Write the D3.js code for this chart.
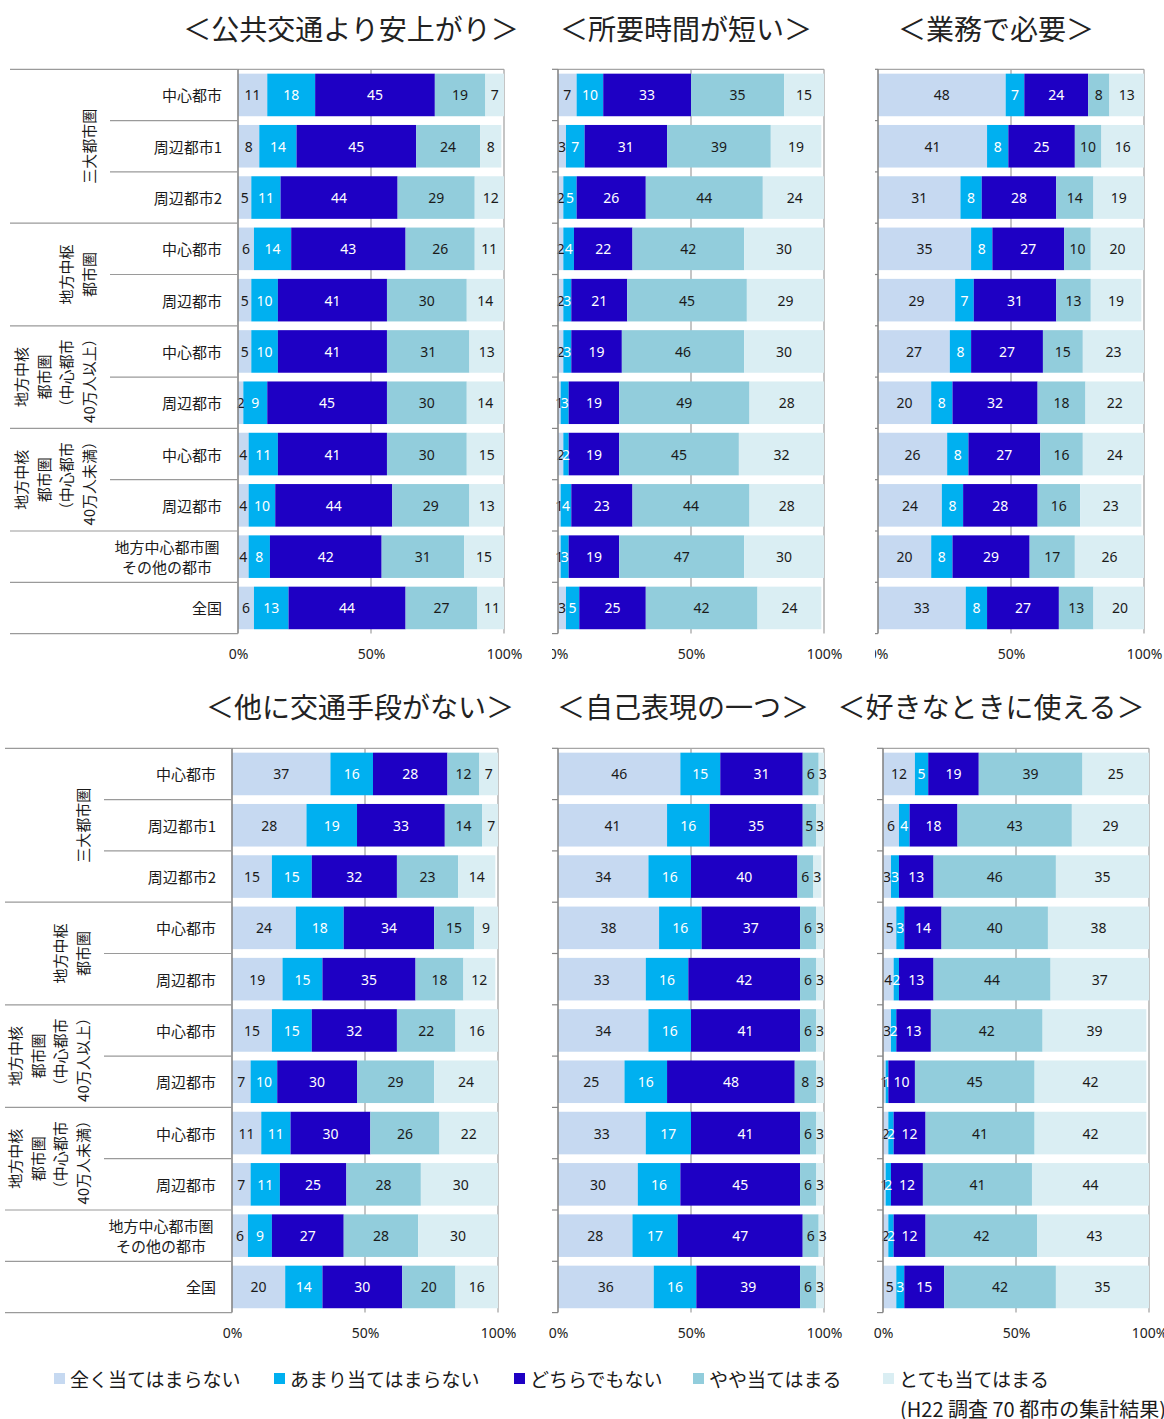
<!DOCTYPE html>
<html>
<head>
<meta charset="utf-8">
<script src="https://cdn.jsdelivr.net/npm/d3@7"></script>
<style>
  body { margin: 0; background: #fff; }
  svg { display: block; }
</style>
</head>
<body>
<svg id="chart" width="1164" height="1419"></svg>
<script>
// ---- data ----
const categories = ["中心都市", "周辺都市1", "周辺都市2", "中心都市", "周辺都市", "中心都市", "周辺都市",
  "中心都市", "周辺都市", "地方中心都市圏\nその他の都市", "全国"];
const categoryGroups = [
  { from: 0, to: 2, lines: ["三大都市圏"] },
  { from: 3, to: 4, lines: ["地方中枢", "都市圏"] },
  { from: 5, to: 6, lines: ["地方中核", "都市圏", "（中心都市", "40万人以上）"] },
  { from: 7, to: 8, lines: ["地方中核", "都市圏", "（中心都市", "40万人未満）"] }
];
const seriesNames = ["全く当てはまらない", "あまり当てはまらない", "どちらでもない", "やや当てはまる", "とても当てはまる"];
const tickValues = [0, 50, 100];
const tickLabels = ["0%", "50%", "100%"];
const panelTitles = ["＜公共交通より安上がり＞", "＜所要時間が短い＞", "＜業務で必要＞",
  "＜他に交通手段がない＞", "＜自己表現の一つ＞", "＜好きなときに使える＞"];
const sourceNote = "(H22 調査 70 都市の集計結果)";

// percentages per row, in series order
const cheaperThanTransit = [
  [11, 18, 45, 19, 7], [8, 14, 45, 24, 8], [5, 11, 44, 29, 12], [6, 14, 43, 26, 11], [5, 10, 41, 30, 14],
  [5, 10, 41, 31, 13], [2, 9, 45, 30, 14], [4, 11, 41, 30, 15], [4, 10, 44, 29, 13], [4, 8, 42, 31, 15],
  [6, 13, 44, 27, 11]];
const shorterTravelTime = [
  [7, 10, 33, 35, 15], [3, 7, 31, 39, 19], [2, 5, 26, 44, 24], [2, 4, 22, 42, 30], [2, 3, 21, 45, 29],
  [2, 3, 19, 46, 30], [1, 3, 19, 49, 28], [2, 2, 19, 45, 32], [1, 4, 23, 44, 28], [1, 3, 19, 47, 30],
  [3, 5, 25, 42, 24]];
const neededForWork = [
  [48, 7, 24, 8, 13], [41, 8, 25, 10, 16], [31, 8, 28, 14, 19], [35, 8, 27, 10, 20], [29, 7, 31, 13, 19],
  [27, 8, 27, 15, 23], [20, 8, 32, 18, 22], [26, 8, 27, 16, 24], [24, 8, 28, 16, 23], [20, 8, 29, 17, 26],
  [33, 8, 27, 13, 20]];
const noOtherMeans = [
  [37, 16, 28, 12, 7], [28, 19, 33, 14, 7], [15, 15, 32, 23, 14], [24, 18, 34, 15, 9], [19, 15, 35, 18, 12],
  [15, 15, 32, 22, 16], [7, 10, 30, 29, 24], [11, 11, 30, 26, 22], [7, 11, 25, 28, 30], [6, 9, 27, 28, 30],
  [20, 14, 30, 20, 16]];
const selfExpression = [
  [46, 15, 31, 6, 3], [41, 16, 35, 5, 3], [34, 16, 40, 6, 3], [38, 16, 37, 6, 3], [33, 16, 42, 6, 3],
  [34, 16, 41, 6, 3], [25, 16, 48, 8, 3], [33, 17, 41, 6, 3], [30, 16, 45, 6, 3], [28, 17, 47, 6, 3],
  [36, 16, 39, 6, 3]];
const useAnytime = [
  [12, 5, 19, 39, 25], [6, 4, 18, 43, 29], [3, 3, 13, 46, 35], [5, 3, 14, 40, 38], [4, 2, 13, 44, 37],
  [3, 2, 13, 42, 39], [1, 1, 10, 45, 42], [2, 2, 12, 41, 42], [1, 2, 12, 41, 44], [2, 2, 12, 42, 43],
  [5, 3, 15, 42, 35]];

// ---- styling ----
const seriesColors = ["#C6D9F1", "#00B0F0", "#1E00C4", "#92CDDC", "#DAEEF3"];
const labelColors = ["#1a1a1a", "#ffffff", "#ffffff", "#1a1a1a", "#1a1a1a"];
const jpFont = "'Noto Sans CJK JP', 'Noto Sans', sans-serif";
const numFont = "'Noto Sans', 'DejaVu Sans', sans-serif";
const rowStep = 51.3;

const panels = [
  { data: cheaperThanTransit, title: panelTitles[0], x0: 238, x1: 504, top: 69.3, titleX: 351, titleY: 28,
    labels: { right: 222, groupLineX: 10, innerLineX: 110, groupLastX: 88, twoLineX: 167 } },
  { data: shorterTravelTime, title: panelTitles[1], x0: 558, x1: 824, top: 69.3, titleX: 686, titleY: 28, clipLeft: 552 },
  { data: neededForWork, title: panelTitles[2], x0: 878, x1: 1144, top: 69.3, titleX: 996, titleY: 28, clipLeft: 875 },
  { data: noOtherMeans, title: panelTitles[3], x0: 232, x1: 498, top: 748.3, titleX: 360, titleY: 706,
    labels: { right: 216, groupLineX: 5, innerLineX: 104, groupLastX: 82, twoLineX: 161 } },
  { data: selfExpression, title: panelTitles[4], x0: 558, x1: 824, top: 748.3, titleX: 683, titleY: 706 },
  { data: useAnytime, title: panelTitles[5], x0: 883, x1: 1149, top: 748.3, titleX: 991, titleY: 706 }
];

const svg = d3.select("#chart");
const defs = svg.append("defs");

panels.forEach((p, pi) => {
  const n = categories.length;
  const x = d3.scaleLinear().domain([0, 100]).range([p.x0, p.x1]);
  const y = d3.scaleBand().domain(d3.range(n)).range([p.top, p.top + rowStep * n])
    .paddingInner(0.17).paddingOuter(0.085);
  const bottom = y.range()[1];
  const boundary = i => y.range()[0] + i * y.step();

  const g = svg.append("g");
  if (p.clipLeft !== undefined) {
    const cid = "panel-clip-" + pi;
    defs.append("clipPath").attr("id", cid).append("rect")
      .attr("x", p.clipLeft).attr("y", 0).attr("width", 1164 - p.clipLeft).attr("height", 1419);
    g.attr("clip-path", `url(#${cid})`);
  }

  // title
  svg.append("text").attr("x", p.titleX).attr("y", p.titleY)
    .attr("text-anchor", "middle").attr("dominant-baseline", "central")
    .style("font-family", jpFont).style("font-size", "28px").style("fill", "#222")
    .text(p.title);

  // gridlines at 50% and 100%, top border
  g.selectAll("line.grid").data(tickValues.slice(1)).join("line")
    .attr("x1", d => x(d)).attr("x2", d => x(d)).attr("y1", p.top).attr("y2", bottom)
    .attr("stroke", "#a6a6a6").attr("stroke-width", 1.3);
  g.append("line").attr("x1", x(0)).attr("x2", x(100)).attr("y1", p.top).attr("y2", p.top)
    .attr("stroke", "#a6a6a6").attr("stroke-width", 1.3);

  // stacked bars
  const rows = p.data.map((vals, i) => {
    const o = { row: i };
    vals.forEach((v, k) => o["s" + k] = v);
    return o;
  });
  const keys = seriesNames.map((_, k) => "s" + k);
  const stacked = d3.stack().keys(keys)(rows);

  const barClipId = "bar-clip-" + pi;
  defs.append("clipPath").attr("id", barClipId).append("rect")
    .attr("x", x(0)).attr("y", p.top).attr("width", x(100) - x(0)).attr("height", bottom - p.top);

  const barLayer = g.append("g").attr("clip-path", `url(#${barClipId})`);
  stacked.forEach((layer, k) => {
    barLayer.append("g").selectAll("rect").data(layer).join("rect")
      .attr("x", d => x(d[0]))
      .attr("width", d => Math.max(0, x(d[1]) - x(d[0])))
      .attr("y", d => y(d.data.row))
      .attr("height", y.bandwidth())
      .attr("fill", seriesColors[k]);
  });

  // value labels
  stacked.forEach((layer, k) => {
    g.append("g").selectAll("text").data(layer).join("text")
      .attr("x", d => x((d[0] + d[1]) / 2))
      .attr("y", d => y(d.data.row) + y.bandwidth() / 2)
      .attr("text-anchor", "middle").attr("dominant-baseline", "central")
      .style("font-family", numFont).style("font-size", "14px")
      .style("fill", labelColors[k])
      .text(d => d.data["s" + k]);
  });

  // value axis labels
  const xAxis = d3.axisBottom(x).tickValues(tickValues).tickFormat((d, i) => tickLabels[i]).tickSize(0).tickPadding(0);
  const ax = g.append("g").attr("transform", `translate(0,${bottom + 13})`).call(xAxis);
  ax.select(".domain").remove();
  ax.selectAll("text").style("font-family", numFont).style("font-size", "14px").style("fill", "#222")
    .attr("dy", "0.35em").attr("y", 7);

  // category axis line
  g.append("line").attr("x1", x(0)).attr("x2", x(0)).attr("y1", p.top).attr("y2", bottom)
    .attr("stroke", "#868686").attr("stroke-width", 1.6);

  if (!p.labels) {
    g.selectAll("line.tick-mark").data(d3.range(n + 1)).join("line")
      .attr("x1", x(0) - 6).attr("x2", x(0))
      .attr("y1", i => boundary(i)).attr("y2", i => boundary(i))
      .attr("stroke", "#868686").attr("stroke-width", 1.2);
    return;
  }

  // multi-level category labels
  const L = p.labels;
  const groupBounds = [0, 3, 5, 7, 9, 10, 11];
  const innerBounds = [1, 2, 4, 6, 8];
  g.selectAll("line.gsep").data(groupBounds).join("line")
    .attr("x1", L.groupLineX).attr("x2", x(0))
    .attr("y1", i => boundary(i)).attr("y2", i => boundary(i))
    .attr("stroke", "#9a9a9a").attr("stroke-width", 1.2);
  g.selectAll("line.isep").data(innerBounds).join("line")
    .attr("x1", L.innerLineX).attr("x2", x(0))
    .attr("y1", i => boundary(i)).attr("y2", i => boundary(i))
    .attr("stroke", "#9a9a9a").attr("stroke-width", 1.2);

  categories.forEach((c, i) => {
    const cy = y(i) + y.bandwidth() / 2;
    const parts = c.split("\n");
    if (parts.length === 1) {
      g.append("text").attr("x", L.right).attr("y", cy)
        .attr("text-anchor", "end").attr("dominant-baseline", "central")
        .style("font-family", jpFont).style("font-size", "15px").style("fill", "#1a1a1a")
        .text(c);
    } else {
      parts.forEach((t, j) => {
        g.append("text").attr("x", L.twoLineX).attr("y", cy + (j - (parts.length - 1) / 2) * 20)
          .attr("text-anchor", "middle").attr("dominant-baseline", "central")
          .style("font-family", jpFont).style("font-size", "15px").style("fill", "#1a1a1a")
          .text(t);
      });
    }
  });

  categoryGroups.forEach(grp => {
    const cy = (boundary(grp.from) + boundary(grp.to + 1)) / 2;
    const m = grp.lines.length;
    grp.lines.forEach((t, j) => {
      const cx = L.groupLastX - (m - 1 - j) * 22.5;
      g.append("text")
        .attr("transform", `translate(${cx},${cy}) rotate(-90)`)
        .attr("text-anchor", "middle").attr("dominant-baseline", "central")
        .style("font-family", jpFont).style("font-size", "15px").style("fill", "#1a1a1a")
        .text(t);
    });
  });
});

// legend
const legendX = [54, 274, 514, 693, 883];
const legend = svg.append("g");
seriesNames.forEach((name, k) => {
  legend.append("rect").attr("x", legendX[k]).attr("y", 1373).attr("width", 11).attr("height", 11)
    .attr("fill", seriesColors[k]);
  legend.append("text").attr("x", legendX[k] + 16).attr("y", 1378.5)
    .attr("dominant-baseline", "central")
    .style("font-family", jpFont).style("font-size", "19px").style("fill", "#1a1a1a")
    .text(name);
});
svg.append("text").attr("x", 900).attr("y", 1408).attr("dominant-baseline", "central")
  .style("font-family", jpFont).style("font-size", "20px").style("fill", "#1a1a1a")
  .text(sourceNote);
</script>
</body>
</html>
